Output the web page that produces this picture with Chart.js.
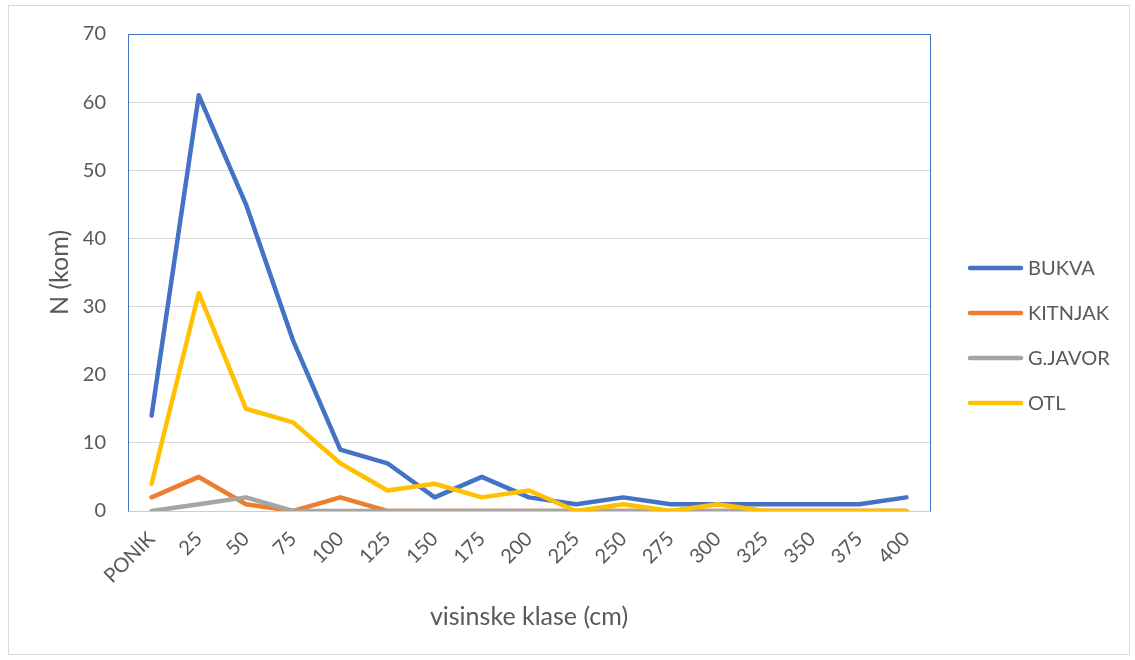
<!DOCTYPE html>
<html>
<head>
<meta charset="utf-8">
<script src="https://cdn.jsdelivr.net/npm/chart.js@4"></script>
<style>
  html, body { margin: 0; padding: 0; background: #fff; }
  #wrap { width: 1135px; height: 660px; }
</style>
</head>
<body>
<div id="wrap"><canvas id="lineChart" width="1135" height="660"></canvas></div>
<script>
// visinske klase (cm)
const categories = ["PONIK", "25", "50", "75", "100", "125", "150", "175", "200",
  "225", "250", "275", "300", "325", "350", "375", "400"];

const bukva   = [14, 61, 45, 25, 9, 7, 2, 5, 2, 1, 2, 1, 1, 1, 1, 1, 2];
const kitnjak = [2, 5, 1, 0, 2, 0, 0, 0, 0, 0, 0, 0, 0, 0, 0, 0, 0];
const gJavor  = [0, 1, 2, 0, 0, 0, 0, 0, 0, 0, 0, 0, 0, 0, 0, 0, 0];
const otl     = [4, 32, 15, 13, 7, 3, 4, 2, 3, 0, 1, 0, 1, 0, 0, 0, 0];

const seriesNames = ["BUKVA", "KITNJAK", "G.JAVOR", "OTL"];
const seriesColors = ["#4472C4", "#ED7D31", "#A5A5A5", "#FFC000"];

const FONT = "Lato, 'Open Sans', sans-serif";
const TEXT = "#595959";

// frame round the whole chart + blue box round the plot area
const framePlugin = {
  id: "frame",
  beforeDraw(chart) {
    const c = chart.ctx;
    c.save();
    c.strokeStyle = "#d9d9d9";
    c.lineWidth = 1;
    c.strokeRect(8.5, 5.5, 1121, 649);
    c.restore();
  },
  beforeDatasetsDraw(chart) {
    const a = chart.chartArea;
    const c = chart.ctx;
    c.save();
    c.lineWidth = 1;
    c.strokeStyle = "#4472C4";
    c.beginPath();
    c.moveTo(Math.round(a.left) + 0.5, Math.round(a.bottom) + 0.5);
    c.lineTo(Math.round(a.left) + 0.5, Math.round(a.top) + 0.5);
    c.lineTo(Math.round(a.right) + 0.5, Math.round(a.top) + 0.5);
    c.lineTo(Math.round(a.right) + 0.5, Math.round(a.bottom) + 0.5);
    c.stroke();
    c.restore();
  }
};

// legend on the right, Excel style
const legendPlugin = {
  id: "sideLegend",
  afterDraw(chart) {
    const c = chart.ctx;
    c.save();
    c.font = "20px " + FONT;
    c.textBaseline = "middle";
    c.textAlign = "left";
    chart.data.datasets.forEach((ds, i) => {
      const y = 268 + i * 45;
      c.strokeStyle = ds.borderColor;
      c.lineWidth = 4.5;
      c.lineCap = "round";
      c.beginPath();
      c.moveTo(970, y);
      c.lineTo(1021, y);
      c.stroke();
      c.fillStyle = TEXT;
      c.fillText(ds.label, 1028, y + 1);
    });
    c.restore();
  }
};

const seriesData = [bukva, kitnjak, gJavor, otl];

new Chart(document.getElementById("lineChart"), {
  type: "line",
  data: {
    labels: categories,
    datasets: seriesData.map((d, i) => ({
      label: seriesNames[i],
      data: d,
      borderColor: seriesColors[i],
      backgroundColor: seriesColors[i],
      borderWidth: 4.5,
      pointRadius: 0,
      tension: 0,
      fill: false,
      borderCapStyle: "round",
      borderJoinStyle: "round",
      order: 3 - i, // later series on top
    })),
  },
  options: {
    responsive: false,
    animation: false,
    layout: { padding: { left: 0, top: 33, right: 205, bottom: 0 } },
    plugins: {
      legend: { display: false },
      tooltip: { enabled: false },
    },
    scales: {
      x: {
        offset: true,
        grid: { display: false, drawTicks: false },
        border: { color: "#c5cfe2", width: 1 },
        ticks: {
          color: TEXT,
          font: { family: FONT, size: 20 },
          maxRotation: 45,
          minRotation: 45,
          padding: 16,
          autoSkip: false,
        },
        title: {
          display: true,
          text: "visinske klase (cm)",
          color: TEXT,
          font: { family: FONT, size: 25 },
          padding: { top: 0, bottom: 28 },
        },
        afterFit(scale) { scale.height = 149; },
      },
      y: {
        min: 0,
        max: 70,
        ticks: {
          stepSize: 10,
          color: TEXT,
          font: { family: FONT, size: 20 },
          padding: 22,
        },
        grid: { color: "#d9d9d9", lineWidth: 1, drawTicks: false },
        border: { display: false },
        title: {
          display: true,
          text: "N (kom)",
          color: TEXT,
          font: { family: FONT, size: 25 },
          padding: { top: 45, bottom: 0 },
        },
        afterFit(scale) { scale.width = 128; },
      },
    },
  },
  plugins: [framePlugin, legendPlugin],
});
</script>
</body>
</html>
